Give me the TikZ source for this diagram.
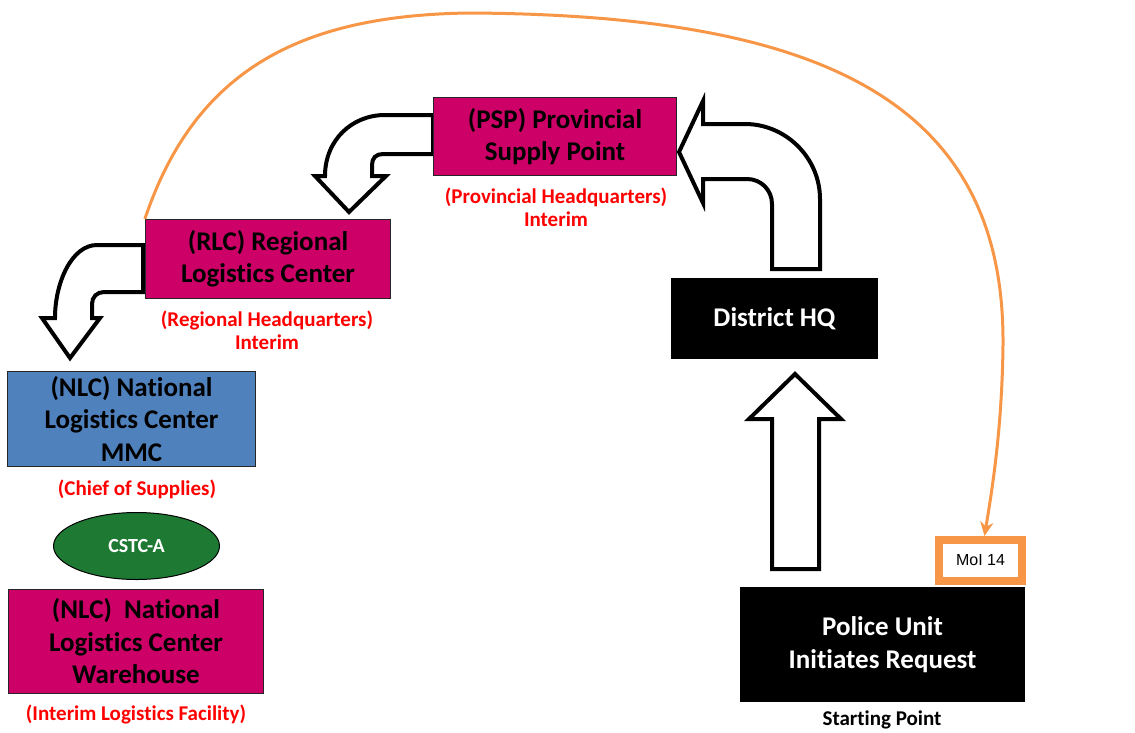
\documentclass[tikz,border=0pt]{standalone}
\usepackage{fontspec}
\setmainfont{Carlito}[Ligatures=NoCommon]
\newfontfamily\arialfont{Liberation Sans}
\usetikzlibrary{shapes.geometric,arrows.meta}
\definecolor{boxmagenta}{HTML}{CC0066}
\definecolor{boxblue}{HTML}{4F81BD}
\definecolor{ovalgreen}{HTML}{1E7A33}
\definecolor{linkorange}{HTML}{F79646}
\definecolor{notered}{HTML}{FF0000}

\begin{document}
\begin{tikzpicture}[x=1pt,y=-1pt,
  box/.style={rectangle, draw=black!85, line width=1.2pt, align=center,
    inner sep=2pt, font=\fontsize{27}{32.5}\selectfont\bfseries},
  magbox/.style={box, fill=boxmagenta, text=black},
  bluebox/.style={box, fill=boxblue, text=black},
  blackbox/.style={box, fill=black, draw=black, text=white},
  note/.style={align=center, text=notered, inner sep=0pt,
    font=\fontsize{21}{23}\selectfont\bfseries},
  plainnote/.style={note, text=black},
  blockarrow/.style={draw=black, line width=4pt, fill=white, line join=miter},
  link/.style={draw=linkorange, line width=3pt,
    -{Stealth[length=14pt,width=13pt]}},
]
\useasboundingbox (0,0) rectangle (1135,732);

% block arrows (drawn first, boxes sit on top of their ends)
% District HQ -> PSP
\path[blockarrow] (679,152) -- (703,101) -- (703,124) -- (745,124)
  .. controls (786,124) and (820,158) .. (820,199) -- (820,269)
  -- (772,269) -- (772,204)
  .. controls (772,190) and (761,179) .. (747,179) -- (703,179)
  -- (703,203) -- cycle;
% Police Unit -> District HQ
\path[blockarrow] (795,374) -- (841,419) -- (819,419) -- (819,569)
  -- (772,569) -- (772,419) -- (749,419) -- cycle;
% PSP -> RLC
\path[blockarrow] (433,115) -- (385,115)
  .. controls (352,115) and (325,140) .. (325,176) -- (315,176)
  -- (349,212) -- (386,176) -- (372,176) -- (372,165)
  .. controls (372,158) and (376,154) .. (383,154) -- (433,154) -- cycle;
% RLC -> NLC
\path[blockarrow] (143,245) -- (97,245)
  .. controls (72,245) and (55,282) .. (55,318) -- (42,318)
  -- (70,358) -- (100,318) -- (92,318) -- (92,304)
  .. controls (92,297) and (97,292) .. (104,292) -- (143,292) -- cycle;

% boxes
\node[magbox, minimum width=243pt, minimum height=78pt] (psp) at (555,136.5)
  {(PSP) Provincial\\Supply Point};
\node[note] (psplbl) at (556,207) {(Provincial Headquarters)\\Interim};

\node[magbox, minimum width=245pt, minimum height=79pt] (rlc) at (268,259)
  {(RLC) Regional\\Logistics Center};
\node[note] (rlclbl) at (267,330.5) {(Regional Headquarters)\\Interim};

\node[bluebox, minimum width=248pt, minimum height=95pt] (mmc) at (131.5,419)
  {(NLC) National\\Logistics Center\\MMC};
\node[note] (mmclbl) at (137,489) {(Chief of Supplies)};

\node[ellipse, draw=black, line width=1pt, fill=ovalgreen, text=white,
  minimum width=166pt, minimum height=67pt, inner sep=0pt,
  font=\fontsize{20}{22}\selectfont\bfseries] (cstc) at (136.5,546) {CSTC-A};

\node[magbox, minimum width=255pt, minimum height=104pt] (whs) at (136,641.5)
  {(NLC)\ \ National\\Logistics Center\\Warehouse};
\node[note] (whslbl) at (136,714) {(Interim Logistics Facility)};

\node[blackbox, minimum width=206pt, minimum height=80pt] (dhq) at (774.5,318.5)
  {District HQ};

\node[blackbox, minimum width=284pt, minimum height=114pt] (pu) at (882.5,644.5)
  {Police Unit\\Initiates Request};
\node[plainnote] (start) at (882,720) {Starting Point};

\node[rectangle, draw=linkorange, line width=8pt, fill=white,
  minimum width=83pt, minimum height=41pt, inner sep=0pt,
  font=\arialfont\fontsize{16}{18}\selectfont] (moi) at (980.5,560.5) {MoI 14};

% request path back to the MoI form
\draw[link] (rlc.north west) .. controls (195,70) and (300,15) .. (470,13)
  .. controls (820,15) and (1005,100) .. (1003,345)
  .. controls (1002,430) and (992,490) .. ([xshift=4pt]moi.north);
\end{tikzpicture}
\end{document}
